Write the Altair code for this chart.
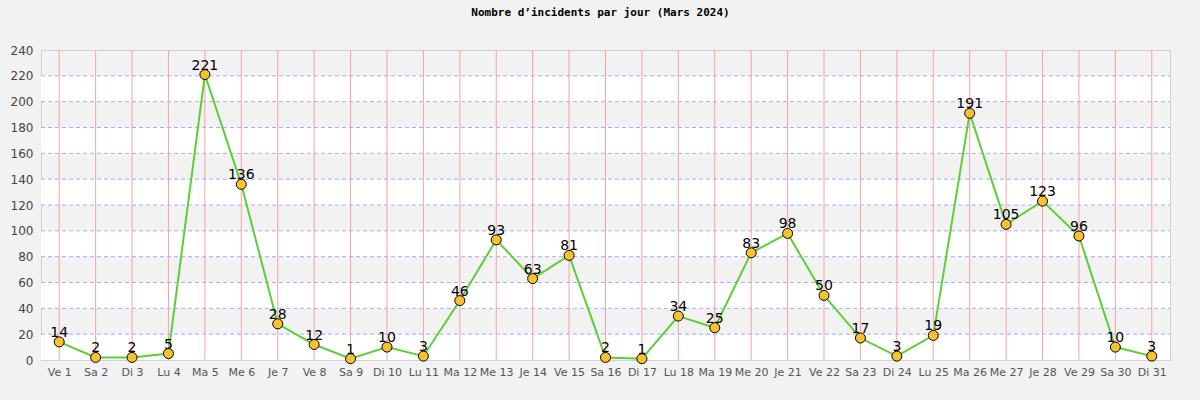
import altair as alt
import pandas as pd

days = ["Ve 1", "Sa 2", "Di 3", "Lu 4", "Ma 5", "Me 6", "Je 7", "Ve 8", "Sa 9", "Di 10",
        "Lu 11", "Ma 12", "Me 13", "Je 14", "Ve 15", "Sa 16", "Di 17", "Lu 18", "Ma 19",
        "Me 20", "Je 21", "Ve 22", "Sa 23", "Di 24", "Lu 25", "Ma 26", "Me 27", "Je 28",
        "Ve 29", "Sa 30", "Di 31"]
incidents = [14, 2, 2, 5, 221, 136, 28, 12, 1, 10, 3, 46, 93, 63, 81, 2, 1, 34, 25, 83,
             98, 50, 17, 3, 19, 191, 105, 123, 96, 10, 3]
white_band_starts = [0, 40, 80, 120, 160, 200]
grid_values = [20, 40, 60, 80, 100, 120, 140, 160, 180, 200, 220]
y_ticks = [0, 20, 40, 60, 80, 100, 120, 140, 160, 180, 200, 220, 240]

df = pd.DataFrame({"day": days, "n": incidents})
bands = pd.DataFrame({"y0": white_band_starts, "y1": [b + 20 for b in white_band_starts]})
hgrid = pd.DataFrame({"v": grid_values})

xenc = alt.X("day:N", sort=days, scale=alt.Scale(type="point", padding=0.5),
             axis=alt.Axis(title=None, labelAngle=0, labelFontSize=11, labelColor="#555555",
                           labelFont="DejaVu Sans", ticks=False, domainColor="#d0d0d0",
                           labelPadding=6, grid=False, labelOverlap=False))
yscale = alt.Scale(domain=[0, 240], nice=False)
yaxis = alt.Axis(title=None, values=y_ticks, labelFontSize=12,
                 labelColor="#444444", labelFont="DejaVu Sans", ticks=False,
                 domainColor="#d0d0d0", labelPadding=8, grid=False, labelOverlap=False,
                 tickCount=13)

band_layer = alt.Chart(bands).mark_rect(color="#ffffff").encode(
    y=alt.Y("y0:Q", scale=yscale, axis=yaxis), y2="y1:Q",
    x=alt.value(0), x2=alt.value(1129))

vgrid = alt.Chart(df).mark_rule(color="#f5a3a3", strokeWidth=1).encode(
    x=xenc, y=alt.value(0), y2=alt.value(310))

hgrid_layer = alt.Chart(hgrid).mark_rule(color="#aaaaff", strokeWidth=1, strokeDash=[4, 3]).encode(
    y=alt.Y("v:Q", scale=yscale, axis=yaxis), x=alt.value(0), x2=alt.value(1129))

line = alt.Chart(df).mark_line(color="#5ccf38", strokeWidth=2).encode(
    x=xenc, y=alt.Y("n:Q", scale=yscale, axis=yaxis))

points = alt.Chart(df).mark_point(filled=True, fill="#f7c22e", stroke="#000000",
                                  strokeWidth=1, size=100, opacity=1, shape="circle").encode(
    x=xenc, y=alt.Y("n:Q", scale=yscale, axis=yaxis))

labels = alt.Chart(df).mark_text(fontSize=14, font="DejaVu Sans", color="#000000",
                                 baseline="alphabetic", dy=-5).encode(
    x=xenc, y=alt.Y("n:Q", scale=yscale, axis=yaxis), text="n:Q")

chart = alt.layer(band_layer, vgrid, hgrid_layer, line, points, labels).properties(
    width=1129, height=310,
    title=alt.TitleParams("Nombre d\u2019incidents par jour (Mars 2024)", font="DejaVu Sans Mono",
                          fontSize=11, fontWeight="bold", color="#000000", anchor="middle",
                          offset=26, dx=-5),
    background="#f2f2f2",
    padding={"left": 41, "top": 50, "right": 30, "bottom": 40},
    autosize=alt.AutoSizeParams(type="none"),
).resolve_axis(y="shared").configure_view(fill="#f2f2f2", stroke="#d0d0d0", strokeWidth=1)

chart.save("out.html", embed_options={"renderer": "svg", "actions": False})
